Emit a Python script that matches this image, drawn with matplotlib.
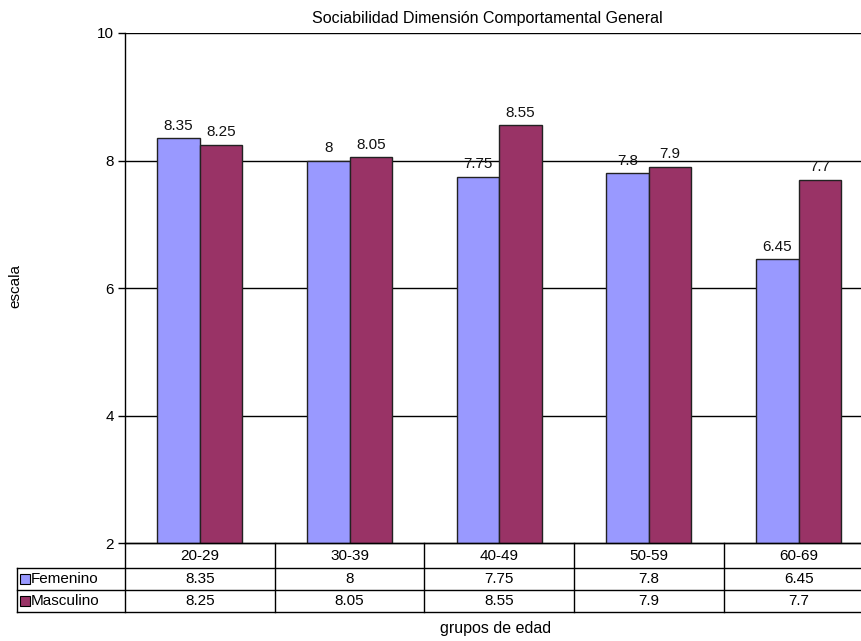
import matplotlib
matplotlib.use("Agg")
import matplotlib.pyplot as plt
from matplotlib.patches import Rectangle

plt.rcParams['font.family'] = ['Liberation Sans', 'DejaVu Sans']

categories = ["20-29", "30-39", "40-49", "50-59", "60-69"]
femenino = [8.35, 8, 7.75, 7.8, 6.45]
masculino = [8.25, 8.05, 8.55, 7.9, 7.7]
series_names = ["Femenino", "Masculino"]
colors = ["#9999FF", "#993366"]
yticks = [2, 4, 6, 8, 10]

W, H = 862, 641
fig = plt.figure(figsize=(W / 100, H / 100), dpi=100)

# plot area in pixel coordinates (from top-left); the right edge runs off the canvas
L, R, T, B = 125, 873.5, 33, 543.3
ax = fig.add_axes([L / W, 1 - B / H, (R - L) / W, (B - T) / H])

n = len(categories)
x = list(range(n))
bw = 0.284
for vals, col, sgn in [(femenino, colors[0], -1), (masculino, colors[1], 1)]:
    pos = [xi + sgn * bw / 2 for xi in x]
    ax.bar(pos, [v - 2 for v in vals], bottom=2, width=bw, color=col,
           edgecolor="#222222", linewidth=1.0, zorder=3)
    for p, v in zip(pos, vals):
        ax.annotate(f"{v:g}", (p, v), xytext=(0, 4), textcoords="offset points",
                    ha="center", va="bottom", fontsize=11, color="#111111")

ax.set_xlim(-0.5, n - 0.5)
ax.set_ylim(2, 10)
ax.set_yticks(yticks)
ax.set_yticklabels([str(t) for t in yticks], fontsize=11)
ax.tick_params(axis="y", length=5, width=1, pad=3)
ax.set_xticks([])
for t in yticks[1:]:
    ax.axhline(t, color="black", linewidth=1, zorder=1)
for s in ["top", "right"]:
    ax.spines[s].set_visible(False)
ax.spines["left"].set_linewidth(1)
ax.spines["bottom"].set_linewidth(1)

fig.text(15 / W, 1 - 286 / H, "escala", rotation=90, ha="center", va="center",
         fontsize=11)
fig.text(487 / W, 1 - 23 / H, "Sociabilidad Dimensión Comportamental General",
         ha="center", va="baseline", fontsize=11.5)
fig.text(496 / W, 1 - 629 / H, "grupos de edad", ha="center", va="center",
         fontsize=11.5)

# data table below the plot area
TL = 17
rows = [543.3, 567.7, 590, 612.3]
TB = rows[-1]
tax = fig.add_axes([TL / W, 1 - TB / H, (R - TL) / W, (TB - B) / H])
scale = (R - L) / n
xl = -0.5 - (L - TL) / scale
tax.set_xlim(xl, n - 0.5)
tax.set_ylim(TB, B)
tax.axis("off")
kw = dict(color="black", linewidth=1.0, clip_on=False)
tax.plot([-0.5, n - 0.5], [rows[0], rows[0]], **kw)
for r in rows[1:]:
    tax.plot([xl, n - 0.5], [r, r], **kw)
for i in range(n + 1):
    tax.plot([i - 0.5, i - 0.5], [rows[0], rows[3]], **kw)
tax.plot([xl, xl], [rows[1], rows[3]], **kw)

for i, c in enumerate(categories):
    tax.text(i, (rows[0] + rows[1]) / 2, c, ha="center", va="center", fontsize=11)
for ri, (vals, name, col) in enumerate([(femenino, series_names[0], colors[0]),
                                        (masculino, series_names[1], colors[1])]):
    yc = (rows[ri + 1] + rows[ri + 2]) / 2
    for i, v in enumerate(vals):
        tax.text(i, yc, f"{v:g}", ha="center", va="center", fontsize=11)
    tax.add_patch(Rectangle((xl + 3 / scale, yc + 5), 10 / scale, -10,
                            facecolor=col, edgecolor="black", linewidth=0.8,
                            clip_on=False))
    tax.text(xl + 14 / scale, yc, name, ha="left", va="center", fontsize=11)

fig.savefig("out.png", dpi=100)
